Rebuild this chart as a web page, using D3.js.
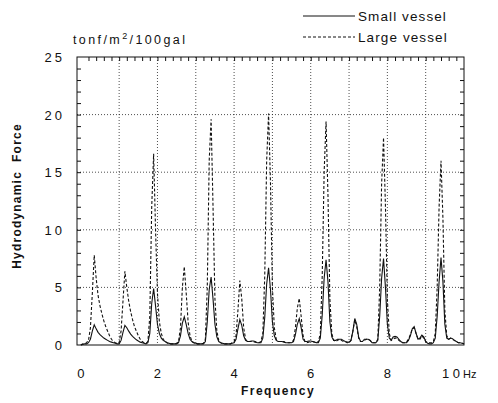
<!DOCTYPE html>
<html><head><meta charset="utf-8">
<script src="https://cdn.jsdelivr.net/npm/d3@7"></script>
<style>
body{margin:0;background:#fff;}
svg text{font-family:"Liberation Sans",Arial,Helvetica,sans-serif;fill:#111;}
</style></head>
<body><svg id="c" width="498" height="403"></svg>
<script>
// Frequency sampling (Hz), step 0.05
const freqs = d3.range(0, 201).map(i => +(i * 0.05).toFixed(2));
// Large vessel (dashed)
const largeVessel = [
 0,0.1,0.1,0.2,0.4,1.5,4.5,7.8,5.8,4.3,3.4,2.7,2.1,1.6,1.2,0.8,0.5,0.3,0.2,0.15,
 0.2,1.2,3.8,6.4,5.0,3.8,2.9,2.2,1.6,1.2,0.8,0.5,0.3,0.2,0.15,0.3,2.5,12.0,16.6,10.0,
 4.5,2.0,1.0,0.5,0.3,0.2,0.1,0.1,0.1,0.1,0.15,0.3,1.5,5.0,6.8,4.5,2.0,0.8,0.3,0.2,
 0.1,0.1,0.1,0.1,0.15,0.5,5.0,16.0,19.6,12.0,4.0,1.2,0.4,0.2,0.1,0.1,0.1,0.1,0.1,0.2,
 0.3,0.8,3.0,5.6,4.0,1.5,0.5,0.3,0.3,0.3,0.3,0.25,0.2,0.2,0.3,1.0,6.0,16.0,20.1,14.0,
 5.0,1.5,0.5,0.3,0.3,0.3,0.3,0.2,0.2,0.2,0.25,0.4,1.5,3.2,4.05,2.5,0.8,0.3,0.2,0.25,
 0.3,0.3,0.25,0.2,0.3,1.0,6.0,15.0,19.4,13.0,4.0,1.0,0.4,0.3,0.4,0.5,0.4,0.3,0.3,0.2,
 0.2,0.4,1.2,2.2,1.6,0.6,0.3,0.3,0.4,0.5,0.5,0.4,0.2,0.2,0.2,0.5,5.0,14.0,18.0,12.0,
 4.0,1.0,0.4,0.5,0.6,0.6,0.4,0.3,0.2,0.2,0.25,0.5,0.9,1.4,1.5,1.0,0.5,0.5,0.8,0.6,
 0.3,0.2,0.2,0.2,0.3,1.0,5.0,12.0,16.0,11.0,3.0,0.8,0.5,0.6,0.5,0.4,0.3,0.2,0.2,0.15,
 0.1
];
// Small vessel (solid)
const smallVessel = [
 0,0.05,0.1,0.1,0.2,0.5,1.2,1.75,1.4,1.1,0.9,0.75,0.6,0.5,0.4,0.3,0.25,0.2,0.15,0.1,
 0.1,0.4,1.1,1.7,1.5,1.2,0.95,0.75,0.6,0.45,0.35,0.25,0.2,0.15,0.1,0.2,1.0,3.6,4.9,3.4,
 1.8,1.0,0.6,0.4,0.3,0.2,0.15,0.1,0.1,0.1,0.1,0.2,0.8,1.9,2.45,1.8,1.0,0.5,0.3,0.2,
 0.15,0.1,0.1,0.1,0.1,0.3,2.0,4.8,5.9,4.0,1.8,0.7,0.3,0.2,0.15,0.1,0.1,0.1,0.1,0.15,
 0.2,0.5,1.4,2.2,1.7,0.8,0.4,0.3,0.3,0.35,0.35,0.3,0.2,0.2,0.2,0.6,2.4,5.3,6.7,4.8,
 2.0,0.8,0.4,0.3,0.3,0.3,0.25,0.2,0.2,0.2,0.2,0.3,0.9,1.8,2.3,1.5,0.5,0.3,0.3,0.35,
 0.35,0.3,0.25,0.2,0.2,0.6,2.6,5.8,7.4,5.5,2.0,0.7,0.4,0.4,0.5,0.5,0.5,0.4,0.3,0.25,
 0.25,0.4,1.2,2.3,1.8,0.7,0.3,0.3,0.5,0.5,0.5,0.4,0.2,0.2,0.2,0.4,2.5,5.8,7.5,5.0,
 1.8,0.6,0.4,0.7,0.75,0.7,0.5,0.3,0.2,0.2,0.2,0.4,0.8,1.4,1.6,1.0,0.5,0.6,0.85,0.7,
 0.3,0.15,0.1,0.1,0.2,0.6,2.5,5.5,7.6,5.5,1.8,0.6,0.5,0.6,0.55,0.4,0.3,0.2,0.2,0.15,
 0.1
];
const xTicks = [0, 2, 4, 6, 8, 10];
const yTicks = [0, 5, 10, 15, 20, 25];
const seriesNames = ["Small vessel", "Large vessel"];

const svg = d3.select("#c");
const L = 77, R = 464, T = 57, B = 345;
const x = d3.scaleLinear().domain([-0.1, 10]).range([L, R]);
const y = d3.scaleLinear().domain([0, 25]).range([B, T]);

// grid
const g = svg.append("g");
g.selectAll(".gx").data(d3.range(1, 10)).enter().append("line")
 .attr("x1", d => x(d)).attr("x2", d => x(d)).attr("y1", T).attr("y2", B)
 .attr("stroke", "#222").attr("stroke-width", 0.8).attr("stroke-dasharray", "1,2");
g.selectAll(".gy").data([5, 10, 15, 20]).enter().append("line")
 .attr("x1", L).attr("x2", R).attr("y1", d => y(d)).attr("y2", d => y(d))
 .attr("stroke", "#222").attr("stroke-width", 0.8).attr("stroke-dasharray", "1,2");

// minor ticks (inward)
const topAxis = d3.axisTop(x).tickValues(d3.range(0, 50).map(i => +(i * 0.2).toFixed(1)).filter(v => v > 0))
 .tickSize(-4).tickFormat("");
svg.append("g").attr("transform", `translate(0,${T})`).call(topAxis)
 .call(s => s.select(".domain").remove()).selectAll("line").attr("stroke", "#111");
const leftAxis = d3.axisLeft(y).tickValues(d3.range(1, 25)).tickSize(-4).tickFormat("");
svg.append("g").attr("transform", `translate(${L},0)`).call(leftAxis)
 .call(s => s.select(".domain").remove()).selectAll("line").attr("stroke", "#111");
const rightAxis = d3.axisRight(y).tickValues(d3.range(1, 25)).tickSize(-4).tickFormat("");
svg.append("g").attr("transform", `translate(${R},0)`).call(rightAxis)
 .call(s => s.select(".domain").remove()).selectAll("line").attr("stroke", "#111");

// frame
svg.append("rect").attr("x", L).attr("y", T).attr("width", R - L).attr("height", B - T)
 .attr("fill", "none").attr("stroke", "#111").attr("stroke-width", 1);

// curves
const line = d3.line().x((d, i) => x(freqs[i])).y(d => y(d));
svg.append("path").datum(largeVessel).attr("d", line).attr("fill", "none")
 .attr("stroke", "#111").attr("stroke-width", 1.1).attr("stroke-dasharray", "3,2");
svg.append("path").datum(smallVessel).attr("d", line).attr("fill", "none")
 .attr("stroke", "#111").attr("stroke-width", 1.1);

// tick labels
svg.selectAll(".xl").data(xTicks.filter(d => d !== 10)).enter().append("text")
 .attr("x", d => x(d)).attr("y", 378).attr("text-anchor", "middle")
 .attr("font-size", 13).text(d => d);
svg.append("text").attr("x", 442).attr("y", 378).attr("font-size", 13)
 .attr("letter-spacing", 3.5).text(xTicks[xTicks.length - 1]);
svg.append("text").attr("x", 463).attr("y", 378).attr("font-size", 11).text("Hz");
svg.selectAll(".yl").data(yTicks).enter().append("text")
 .attr("x", 65).attr("y", d => y(d) + 5).attr("text-anchor", "end")
 .attr("font-size", 13).attr("letter-spacing", 3).text(d => d);

// titles
svg.append("text").attr("x", 278).attr("y", 395).attr("text-anchor", "middle")
 .attr("font-size", 12).attr("font-weight", "bold").attr("letter-spacing", 1.5).text("Frequency");
svg.append("text").attr("transform", "translate(21,196) rotate(-90)").attr("text-anchor", "middle")
 .attr("font-size", 12).attr("font-weight", "bold").attr("letter-spacing", 1.2)
 .attr("xml:space", "preserve").style("white-space", "pre").text("Hydrodynamic  Force");
const unit = svg.append("text").attr("x", 73).attr("y", 44).attr("font-size", 12.5).attr("letter-spacing", 2.4);
unit.append("tspan").text("tonf/m");
unit.append("tspan").attr("dy", -5).attr("font-size", 9).text("2");
unit.append("tspan").attr("dy", 5).text("/100gal");

// legend
const leg = svg.append("g");
seriesNames.forEach((name, i) => {
  const yy = 16 + i * 21;
  leg.append("line").attr("x1", 303).attr("x2", 355).attr("y1", yy).attr("y2", yy)
   .attr("stroke", "#111").attr("stroke-width", 1).attr("stroke-dasharray", i ? "3,2" : null);
  leg.append("text").attr("x", 358).attr("y", yy + 5).attr("font-size", 13.5)
   .attr("letter-spacing", 1.1).text(name);
});
</script></body></html>
